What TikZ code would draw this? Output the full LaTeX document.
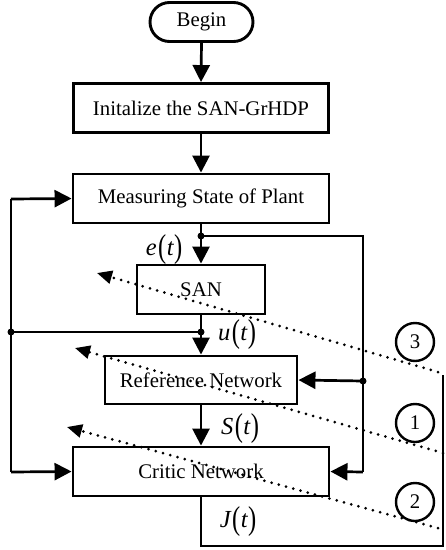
\documentclass[tikz,border=0pt]{standalone}
\usepackage{fontspec}
\setmainfont{Liberation Serif}
\usetikzlibrary{arrows.meta,shapes.misc}
\begin{document}
\begin{tikzpicture}[x=1pt,y=-1pt,
  every node/.style={font=\fontsize{20.8}{24}\selectfont},
  box/.style={draw,line width=2.9pt,inner sep=0pt,minimum height=49pt},
  stadium/.style={draw,line width=2.9pt,rounded rectangle,inner sep=0pt,minimum width=103pt,minimum height=39pt},
  flow/.style={line width=2.7pt,-{Triangle[length=17pt,width=17pt]}},
  wire/.style={line width=2.7pt},
  dotarr/.style={line width=3pt,dash pattern=on 0pt off 7.5pt,line cap=round,-{Triangle[length=15pt,width=13pt]}},
  num/.style={draw,circle,line width=2.4pt,minimum size=38pt,inner sep=0pt},
  jdot/.style={circle,fill,inner sep=0pt,minimum size=7pt},
  lbl/.style={inner sep=0pt,font=\fontsize{24.5}{28}\selectfont}]
\useasboundingbox (0,0) rectangle (446,550);
\newcommand\plbl[1]{{\itshape #1}\kern1.5pt\raisebox{-2.5pt}{\scalebox{1}[1.35]{(}}\kern0.5pt{\itshape t}\kern0.5pt\raisebox{-2.5pt}{\scalebox{1}[1.35]{)}}}
% nodes
\node[stadium] (begin) at (201.5,22) {Begin};
\node[box,minimum width=255pt] (init) at (201,108) {Initalize the SAN-GrHDP};
\node[box,minimum width=256pt] (meas) at (201,198.5) {Measuring State of Plant};
\node[box,minimum width=128pt] (san) at (201,289.5) {SAN};
\node[box,minimum width=192pt,minimum height=48pt] (ref) at (201,380) {Reference Network};
\node[box,minimum width=256pt] (critic) at (201,471.5) {Critic Network};
% junctions
\node[jdot] (j1) at (201,236) {};
\node[jdot] (j2) at (201,332) {};
\node[jdot] (j3) at (11,332) {};
\node[jdot] (j4) at (363,381) {};
\coordinate (rtop) at (363,236);
\coordinate (rbot) at (363,472);
\coordinate (ltop) at (11,199);
\coordinate (lbot) at (11,472);
\coordinate (bl) at (201,546);
\coordinate (br) at (443,546);
\coordinate (bt) at (443,375);
% main flow
\draw[flow] (begin.south) -- (init.north);
\draw[flow] (init.south) -- (meas.north);
\draw[wire] (meas.south) -- (j1.center);
\draw[flow] (j1.center) -- (san.north);
\draw[wire] (san.south) -- (j2.center);
\draw[flow] (j2.center) -- (ref.north);
\draw[flow] (ref.south) -- (critic.north);
% right feedback
\draw[wire,line join=miter] (j1.center) -- (rtop) -- (rbot);
\draw[flow] (rbot) -- (critic.east);
\draw[flow] (j4.center) -- (ref.east);
% left feedback
\draw[wire] (j2.center) -- (j3.center);
\draw[wire] (ltop) -- (lbot);
\draw[flow] (ltop) -- (meas.west);
\draw[flow] (lbot) -- (critic.west);
% output J
\draw[wire] (critic.south) -- (bl) -- (br) -- (bt);
% labels
\node[lbl] (le) at (164,250) {\plbl{e}};
\node[lbl] (lu) at (237,335) {\plbl{u}};
\node[lbl] (ls) at (240,429) {\plbl{S}};
\node[lbl] (lj) at (238,522) {\plbl{J}};
% numbered circles
\node[num] (n3) at (415,342) {3};
\node[num] (n1) at (415,423) {1};
\node[num] (n2) at (415,502) {2};
% dotted arrows
\coordinate (d3s) at (438,372);
\coordinate (d3t) at (97,273);
\coordinate (d1s) at (443,453);
\coordinate (d1t) at (75,348);
\coordinate (d2s) at (438,528);
\coordinate (d2t) at (67,427);
\draw[dotarr] (d3s) -- (d3t);
\draw[dotarr] (d1s) -- (d1t);
\draw[dotarr] (d2s) -- (d2t);
\end{tikzpicture}
\end{document}
